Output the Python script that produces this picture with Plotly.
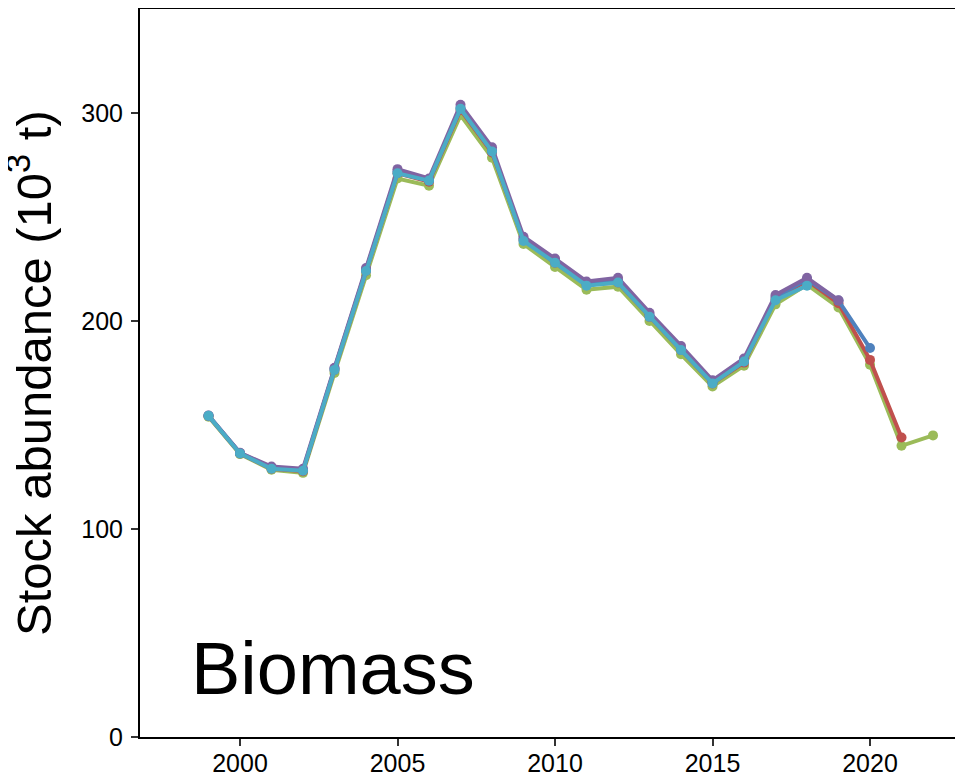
import plotly.graph_objects as go

years = list(range(1999, 2023))

# Retrospective peels (terminal year 2022 ... 2018)
green_2022 = [154.0, 136.0, 128.5, 127.0, 175.0, 222.0, 268.5, 265.0, 299.0, 278.5, 237.0, 226.0,
              215.0, 216.5, 200.0, 184.0, 168.5, 178.5, 208.0, 217.5, 206.5, 179.0, 140.0, 145.0]
red_2021 = [154.3, 136.3, 129.0, 127.8, 176.5, 224.0, 271.0, 267.0, 301.5, 281.0, 239.0, 228.0,
            217.5, 218.5, 202.0, 186.0, 170.0, 180.0, 210.5, 219.5, 208.5, 181.3, 144.0]
blue_2020 = [154.5, 136.5, 129.5, 128.3, 177.0, 224.5, 272.0, 267.5, 302.5, 282.0, 239.5, 229.0,
             218.0, 219.5, 203.0, 186.5, 170.5, 180.5, 211.5, 220.0, 209.8, 187.0]
purple_2019 = [154.6, 136.6, 130.0, 129.0, 177.5, 225.5, 273.0, 268.5, 304.0, 283.5, 240.5, 230.0,
               219.0, 220.8, 204.0, 188.0, 171.5, 182.0, 212.5, 220.8, 210.0]
teal_2018 = [154.4, 136.3, 129.0, 128.0, 176.5, 224.0, 271.0, 267.5, 302.0, 281.5, 238.5, 228.0,
             217.0, 218.5, 202.0, 186.0, 170.0, 180.5, 210.0, 217.0]

series = [
    ("2022", green_2022, "#9BBB59"),
    ("2021", red_2021, "#C0504D"),
    ("2020", blue_2020, "#4F81BD"),
    ("2019", purple_2019, "#8064A2"),
    ("2018", teal_2018, "#4BACC6"),
]

x_ticks = [2000, 2005, 2010, 2015, 2020]
y_ticks = [0, 100, 200, 300]

fig = go.Figure()
for name, vals, col in series:
    fig.add_trace(go.Scatter(
        x=years[:len(vals)], y=vals, mode="lines+markers", name=name,
        line=dict(color=col, width=4),
        marker=dict(color=col, size=10),
        showlegend=False,
    ))

FONT = "Liberation Sans, Arial, sans-serif"

# page body has an 8px margin; compensate so the plot lands where the reference has it
fig.update_layout(
    width=963, height=770,
    margin=dict(l=132, r=0, t=1, b=41),
    plot_bgcolor="white", paper_bgcolor="white",
    font=dict(family=FONT, color="black"),
    xaxis=dict(
        range=[1996.825, 2023.206], tickvals=x_ticks, ticktext=[str(v) for v in x_ticks],
        showgrid=False, zeroline=False, showline=True, linecolor="black", linewidth=2,
        mirror=True, ticks="outside", ticklen=7, tickwidth=2, tickcolor="#333333",
        automargin=False, ticklabelstandoff=-4,
        tickfont=dict(size=25, color="black", family=FONT),
    ),
    yaxis=dict(
        range=[0, 350], tickvals=y_ticks, ticktext=[str(v) for v in y_ticks],
        showgrid=False, zeroline=False, showline=True, linecolor="black", linewidth=2,
        ticks="outside", ticklen=7, tickwidth=2, tickcolor="#333333",
        ticklabelstandoff=3, automargin=False,
        tickfont=dict(size=25, color="black", family=FONT),
    ),
    annotations=[
        dict(text="Stock abundance (10<sup>3</sup> t)", xref="paper", yref="paper",
             x=(22 - 132) / 831, y=0.5, xanchor="center", yanchor="middle",
             textangle=-90, showarrow=False, font=dict(size=49, color="black", family=FONT)),
        dict(text="Biomass", xref="paper", yref="paper",
             x=(181 - 132) / 831, y=0.035, xanchor="left", yanchor="bottom",
             showarrow=False, font=dict(size=74, color="black", family=FONT)),
    ],
)

fig.write_html("out.html")
